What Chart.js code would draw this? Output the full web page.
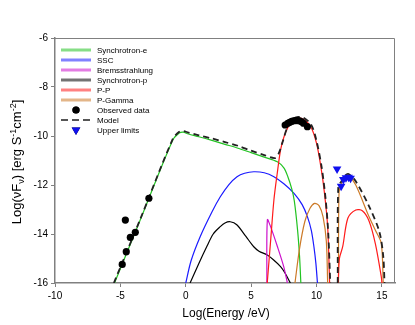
<!DOCTYPE html>
<html>
<head>
<meta charset="utf-8">
<script src="https://cdn.jsdelivr.net/npm/chart.js@4/dist/chart.umd.min.js"></script>
<style>
  html, body { margin: 0; padding: 0; background: #fff; }
  #sedChart { display: block; }
</style>
</head>
<body>
<canvas id="sedChart" width="415" height="325"></canvas>
<script>
/*
==============================================
    Datos: Log(Energy/eV) vs Log(vFv)
==============================================
*/
// Synchrotron-e
const synchEx = [-5.45, -3.5, -1.0, -0.5, -0.2, 0.2, 1, 2, 3, 4, 5, 6, 7, 7.5, 7.8, 8.1, 8.3, 8.55, 8.7, 8.8];
const synchEy = [-16, -13.45, -10.17, -9.88, -9.84, -9.92, -10.03, -10.18, -10.34, -10.5, -10.68, -10.86, -11.05, -11.3, -11.65, -12.15, -12.65, -13.84, -14.9, -16];

// SSC
const sscX = [0, 0.4, 1.1, 2, 2.64, 3.3, 3.92, 4.5, 5.2, 6, 6.74, 7.5, 8.28, 8.9, 9.3, 9.6, 9.8, 9.95, 10.07];
const sscY = [-16, -15.1, -14.11, -13.1, -12.48, -11.98, -11.66, -11.52, -11.46, -11.5, -11.66, -11.95, -12.34, -12.8, -13.29, -13.85, -14.52, -15.2, -16];

// Bremsstrahlung
const bremsX = [6.2, 6.24, 6.5, 7.0, 7.5, 7.77];
const bremsY = [-16, -13.42, -13.72, -14.5, -15.35, -16];

// Synchrotron-p
const synchPx = [0.33, 1.0, 1.6, 2.1, 2.64, 3.0, 3.4, 3.9, 4.6, 5.2, 5.6, 6.23, 6.7, 7.25, 7.6, 8.0];
const synchPy = [-16, -15.2, -14.52, -14.0, -13.7, -13.55, -13.5, -13.62, -14.1, -14.52, -14.7, -14.86, -15.05, -15.33, -15.6, -16];

// P-P (dos jorobas, null = corte)
const ppX = [6.23, 6.5, 6.74, 7.0, 7.25, 7.5, 7.77, 8.1, 8.54, 9.0, 9.56, 10.0, 10.33, 10.6, 10.85, 11.0, 11.3, 11.66, 11.75, 12.0, 12.4, 13.0, 13.5, 14.0, 14.5, 14.95, 15.0];
const ppY = [-16, -14.2, -12.61, -11.5, -10.57, -10.05, -9.69, -9.42, -9.28, -9.32, -9.62, -10.3, -11.25, -12.3, -13.7, -16, null, -16, -15.0, -14.52, -13.35, -13.02, -13.05, -13.45, -14.4, -15.74, -16];

// P-Gamma
const pgX = [8.35, 8.7, 9.1, 9.5, 9.85, 10.2, 10.5, 10.75, 10.85, 11.2, 11.68, 11.72, 11.9, 12.2, 12.45, 13.0, 13.94, 14.5, 14.95, 15.1];
const pgY = [-16, -14.6, -13.5, -12.95, -12.75, -12.85, -13.3, -14.3, -16, null, -16, -12.3, -11.95, -11.68, -11.62, -12.0, -13.2, -13.85, -14.38, -16];

// Model (suma)
const modelX = [-5.5, -3.5, -1.0, -0.5, -0.2, 0.2, 1, 2, 3, 4, 5, 6, 6.8, 7.1, 7.4, 7.8, 8.2, 8.6, 9.0, 9.6, 10.0, 10.4, 10.7, 10.9, 11.05, 11.3, 11.62, 11.66, 11.9, 12.2, 12.45, 13.0, 14.0, 14.8, 15.1, 15.2];
const modelY = [-16, -13.42, -10.13, -9.83, -9.8, -9.86, -9.97, -10.1, -10.25, -10.4, -10.6, -10.78, -10.9, -10.72, -10.25, -9.6, -9.3, -9.22, -9.25, -9.55, -10.2, -11.3, -12.6, -14.0, -16, null, -16, -12.1, -11.85, -11.6, -11.55, -11.85, -12.85, -13.9, -14.9, -16];

// Observed data
const obsX = [-4.86, -4.55, -4.62, -4.24, -3.86, -2.82, 7.6, 7.8, 7.95, 8.1, 8.25, 8.4, 8.55, 8.7, 8.85, 9.0, 9.3];
const obsY = [-15.24, -14.72, -13.43, -14.14, -13.93, -12.54, -9.55, -9.48, -9.44, -9.4, -9.38, -9.37, -9.37, -9.38, -9.42, -9.48, -9.62];

// Upper limits
const ulX = [11.57, 11.88, 12.05, 12.25, 12.45, 12.6];
const ulY = [-11.35, -12.05, -11.78, -11.7, -11.68, -11.72];

// Ticks
const xTicks = [-10, -5, 0, 5, 10, 15];
const yTicks = [-16, -14, -12, -10, -8, -6];

const FONT = '"Liberation Sans", Arial, sans-serif';

function toPoints(xs, ys) {
    return xs.map((x, i) => ({ x, y: ys[i] }));
}

function curve(label, xs, ys, color, order) {
    return {
        label,
        data: toPoints(xs, ys),
        showLine: true,
        borderColor: color,
        backgroundColor: color,
        borderWidth: 1.2,
        pointRadius: 0,
        tension: 0.3,
        spanGaps: false,
        order
    };
}

/*
==============================================
    Plugins: leyenda dentro del area, marco, titulos
==============================================
*/
const insideLegend = {
    id: 'insideLegend',
    afterDraw(chart) {
        const ctx = chart.ctx;
        const x0 = 61, x1 = 91, y0 = 50, step = 10;
        ctx.save();
        ctx.font = '8px ' + FONT;
        ctx.textBaseline = 'middle';
        ctx.textAlign = 'left';
        chart.data.datasets.forEach((ds, i) => {
            const y = y0 + i * step;
            if (ds.showLine) {
                ctx.save();
                ctx.strokeStyle = ds.borderColor;
                if (ds.borderDash) {
                    ctx.strokeStyle = '#555';
                    ctx.lineWidth = 2;
                    ctx.setLineDash([7, 4]);
                } else {
                    ctx.globalAlpha = 0.55;
                    ctx.lineWidth = 3;
                }
                ctx.beginPath();
                ctx.moveTo(x0, y);
                ctx.lineTo(x1, y);
                ctx.stroke();
                ctx.restore();
            } else {
                Chart.helpers.drawPoint(ctx, {
                    pointStyle: ds.pointStyle,
                    radius: ds.pointRadius,
                    rotation: ds.rotation || 0,
                    borderWidth: 0
                }, 76, y);
                ctx.fillStyle = ds.backgroundColor;
                ctx.fill();
            }
            ctx.fillStyle = '#000';
            ctx.fillText(ds.label, 97, y + 0.5);
        });
        ctx.restore();
    }
};

const frameAndTitles = {
    id: 'frameAndTitles',
    afterDraw(chart) {
        const { ctx, chartArea: a } = chart;
        ctx.save();
        // marco superior y derecho
        ctx.strokeStyle = '#808080';
        ctx.lineWidth = 1;
        ctx.beginPath();
        ctx.moveTo(a.left, a.top + 0.5);
        ctx.lineTo(a.right - 0.5, a.top + 0.5);
        ctx.lineTo(a.right - 0.5, a.bottom);
        ctx.stroke();

        // titulo eje x
        ctx.fillStyle = '#000';
        ctx.font = '12px ' + FONT;
        ctx.textAlign = 'center';
        ctx.textBaseline = 'alphabetic';
        ctx.fillText('Log(Energy /eV)', 226, 317);

        // titulo eje y con sub/superindices
        const big = '13px ' + FONT, small = '9px ' + FONT;
        const parts = [
            ['Log(\u03BDF', big, 0],
            ['\u03BD', small, 3],
            [') [erg S', big, 0],
            ['-1', small, -5],
            ['cm', big, 0],
            ['-2', small, -5],
            [']', big, 0]
        ];
        let total = 0;
        parts.forEach(p => { ctx.font = p[1]; total += ctx.measureText(p[0]).width; });
        ctx.translate(21, 162);
        ctx.rotate(-Math.PI / 2);
        ctx.textAlign = 'left';
        let x = -total / 2;
        parts.forEach(p => {
            ctx.font = p[1];
            ctx.fillText(p[0], x, p[2]);
            x += ctx.measureText(p[0]).width;
        });
        ctx.restore();
    }
};

/*
==============================================
    Grafico
==============================================
*/
const datasets = [
    curve('Synchrotron-e', synchEx, synchEy, '#22c322', 6),
    curve('SSC', sscX, sscY, '#1a1aff', 7),
    curve('Bremsstrahlung', bremsX, bremsY, '#cc11cc', 8),
    curve('Synchrotron-p', synchPx, synchPy, '#000000', 9),
    curve('P-P', ppX, ppY, '#ff1a1a', 4),
    curve('P-Gamma', pgX, pgY, '#cc7a28', 5),
    {
        label: 'Observed data',
        data: toPoints(obsX, obsY),
        showLine: false,
        pointStyle: 'circle',
        pointRadius: 3.6,
        backgroundColor: '#000',
        borderColor: '#000',
        borderWidth: 0,
        order: 0
    },
    Object.assign(curve('Model', modelX, modelY, '#222222', 2), { borderDash: [6, 4], borderWidth: 1.8 }),
    {
        label: 'Upper limits',
        data: toPoints(ulX, ulY),
        showLine: false,
        pointStyle: 'triangle',
        rotation: 180,
        pointRadius: 5,
        backgroundColor: '#1010ee',
        borderColor: '#1010ee',
        borderWidth: 0,
        order: 1
    }
];

const ctx = document.getElementById('sedChart').getContext('2d');
new Chart(ctx, {
    type: 'scatter',
    data: { datasets },
    options: {
        responsive: false,
        devicePixelRatio: 1,
        animation: false,
        layout: { padding: { top: 38, right: 20, left: 0, bottom: 0 } },
        plugins: {
            legend: { display: false },
            tooltip: { enabled: false },
            title: { display: false }
        },
        scales: {
            x: {
                type: 'linear',
                min: -10,
                max: 16,
                afterBuildTicks: s => { s.ticks = xTicks.map(v => ({ value: v })); },
                afterFit: s => { s.height = 42; },
                ticks: { color: '#000', font: { size: 10, family: FONT }, padding: 3, maxRotation: 0, autoSkip: false },
                grid: { drawOnChartArea: false, drawTicks: true, tickLength: 4, color: '#808080' },
                border: { color: '#808080', width: 1.5 }
            },
            y: {
                type: 'linear',
                min: -16,
                max: -6,
                afterBuildTicks: s => { s.ticks = yTicks.map(v => ({ value: v })); },
                afterFit: s => { s.width = 55; },
                ticks: { color: '#000', font: { size: 10, family: FONT }, padding: 3, autoSkip: false },
                grid: { drawOnChartArea: false, drawTicks: true, tickLength: 4, color: '#808080' },
                border: { color: '#808080', width: 1.5 }
            }
        }
    },
    plugins: [insideLegend, frameAndTitles]
});
</script>
</body>
</html>
